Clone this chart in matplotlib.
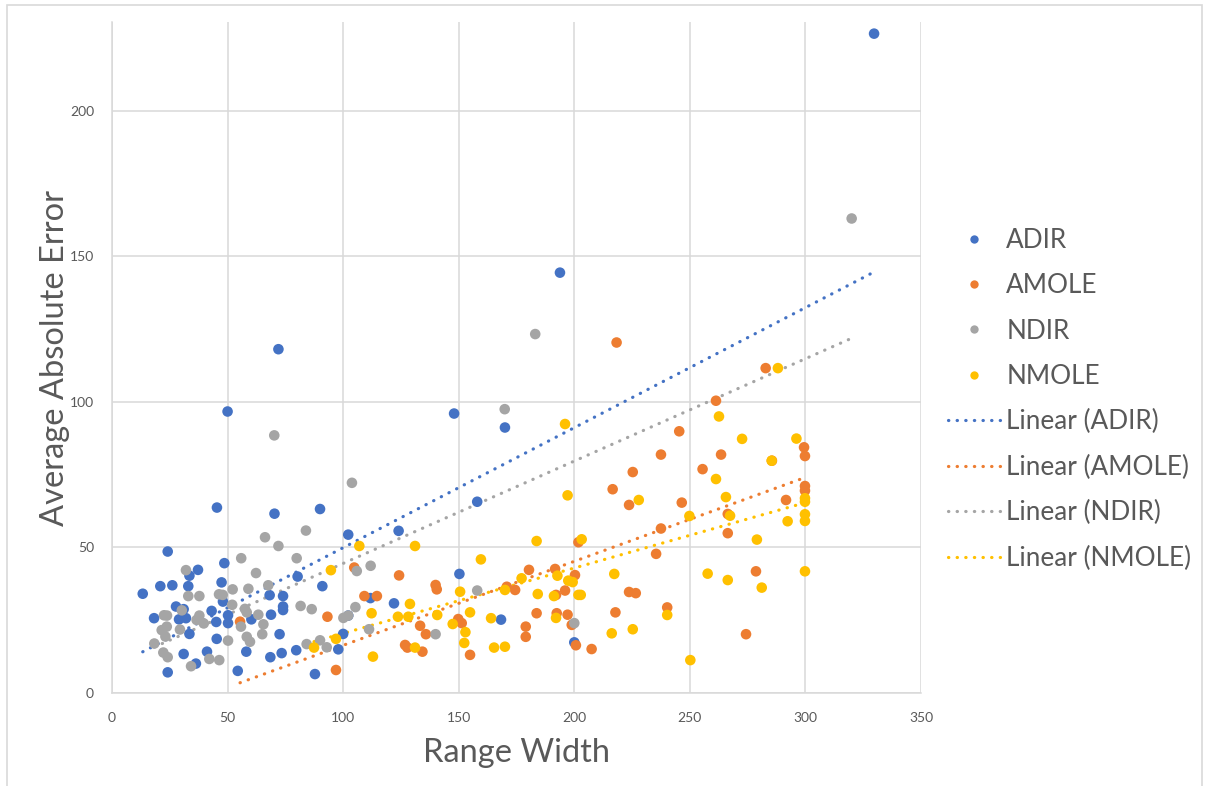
import numpy as np
import matplotlib
matplotlib.use('Agg')
import matplotlib.pyplot as plt
from matplotlib.lines import Line2D
from matplotlib.patches import Rectangle

# ---- data: (range width, average absolute error) ----
adir_x = [13.3, 18.2, 20.9, 24.1, 24.1, 26.1, 27.7, 29.0, 31.0, 31.0, 32.0, 33.0, 33.5, 33.5,
          36.3, 37.2, 41.1, 43.1, 45.1, 45.3, 45.4, 47.4, 48.0, 48.6, 50.0, 50.2, 50.2, 54.4,
          58.1, 60.3, 68.2, 68.5, 68.8, 70.3, 72.0, 72.5, 73.4, 74.0, 74.0, 74.0, 79.7, 80.3,
          87.8, 90.0, 91.0, 97.9, 100.0, 102.2, 102.2, 111.8, 122.0, 124.0, 148.0, 150.3,
          158.0, 168.3, 170.0, 193.8, 200.0, 329.7]
adir_y = [34.1, 25.7, 36.7, 48.6, 7.1, 37.0, 29.7, 25.3, 28.8, 13.4, 25.7, 36.7, 40.3, 20.3,
          10.1, 42.3, 14.2, 28.2, 24.4, 18.6, 63.7, 38.0, 31.4, 44.6, 96.7, 26.7, 24.0, 7.6,
          14.2, 25.3, 33.6, 12.3, 26.9, 61.6, 118.1, 20.2, 13.7, 33.3, 29.7, 28.5, 14.7, 40.0,
          6.5, 63.2, 36.7, 15.0, 20.3, 54.4, 26.6, 32.6, 30.8, 55.7, 96.0, 40.9,
          65.7, 25.2, 91.2, 144.4, 17.4, 226.5]

amole_x = [55.4, 93.2, 96.9, 104.8, 109.2, 114.6, 124.2, 126.8, 127.8, 133.3, 134.3, 135.8,
           140.0, 140.5, 149.8, 151.3, 154.9, 170.8, 174.4, 179.0, 179.0, 180.4, 183.7, 191.7,
           192.1, 192.4, 196.0, 197.1, 198.9, 200.3, 200.7, 201.8, 207.5, 216.6, 217.8, 218.3,
           223.7, 223.7, 225.3, 226.6, 235.4, 237.5, 237.5, 240.2, 245.4, 246.5, 255.5, 261.3,
           263.5, 266.4, 266.4, 274.3, 278.6, 282.8, 285.5, 291.6, 299.4, 299.8, 299.8, 299.8]
amole_y = [24.5, 26.2, 7.9, 43.1, 33.3, 33.3, 40.4, 16.5, 15.6, 23.1, 14.2, 20.2,
           37.1, 35.6, 25.4, 24.0, 13.1, 36.5, 35.4, 22.8, 19.3, 42.3, 27.4, 42.6,
           33.7, 27.4, 35.2, 26.9, 23.4, 40.5, 16.4, 51.8, 15.1, 70.0, 27.7, 120.4,
           64.6, 34.7, 75.9, 34.3, 47.8, 81.9, 56.5, 29.4, 89.9, 65.4, 76.9, 100.4,
           81.9, 61.5, 54.9, 20.2, 41.8, 111.6, 79.8, 66.3, 84.4, 81.4, 71.1, 69.5]

ndir_x = [18.3, 21.5, 22.2, 22.5, 23.1, 23.7, 23.8, 24.1, 29.4, 30.2, 32.0, 33.0, 34.2, 36.6,
          37.8, 37.8, 39.7, 42.1, 46.3, 46.4, 47.9, 50.2, 52.0, 52.2, 55.8, 55.9, 57.5, 58.3,
          58.3, 59.0, 59.7, 62.3, 63.3, 65.0, 65.5, 66.2, 67.6, 70.2, 72.0, 79.9, 81.6, 83.9,
          84.2, 86.4, 90.0, 92.9, 100.1, 102.2, 103.8, 105.3, 105.9, 111.2, 111.9, 140.0,
          158.0, 169.9, 183.1, 200.0, 320.0]
ndir_y = [17.0, 21.6, 13.9, 26.7, 19.4, 22.8, 26.6, 12.3, 21.8, 28.4, 42.2, 33.3, 9.2, 25.1,
          26.6, 33.3, 23.9, 11.7, 33.9, 11.3, 33.7, 18.0, 30.3, 35.6, 22.8, 46.3, 28.9, 27.7,
          19.3, 35.8, 17.6, 41.2, 26.9, 20.2, 23.6, 53.5, 37.0, 88.5, 50.5, 46.3, 29.9, 55.8,
          16.8, 28.8, 18.1, 15.7, 25.8, 26.6, 72.2, 29.5, 41.9, 21.9, 43.7, 20.2,
          35.2, 97.5, 123.3, 24.0, 163.0]

nmole_x = [87.4, 94.7, 96.9, 107.0, 112.3, 112.9, 123.7, 128.2, 128.9, 131.1, 131.1, 140.7,
           147.4, 150.6, 152.4, 152.9, 154.9, 159.6, 164.0, 165.3, 170.0, 170.0, 177.2, 183.7,
           184.2, 191.2, 192.1, 192.7, 196.0, 197.1, 197.4, 199.3, 201.8, 202.8, 203.2, 216.2,
           217.3, 225.3, 227.9, 240.2, 249.8, 250.2, 257.7, 261.3, 262.6, 265.6, 266.4, 267.4,
           272.6, 279.0, 281.1, 285.4, 288.1, 292.3, 296.1, 299.8, 299.8, 299.8, 299.8, 299.8]
nmole_y = [15.6, 42.2, 18.6, 50.5, 27.4, 12.5, 26.2, 26.2, 30.6, 50.5, 15.6, 26.8,
           23.7, 34.8, 17.2, 20.9, 27.7, 45.9, 25.7, 15.6, 15.9, 35.4, 39.4, 52.2,
           34.0, 33.3, 25.8, 40.3, 92.4, 67.9, 38.6, 38.1, 33.7, 33.7, 52.8, 20.5,
           40.9, 21.9, 66.3, 26.8, 60.8, 11.3, 41.0, 73.5, 95.0, 67.3, 38.8, 60.9,
           87.3, 52.7, 36.2, 79.8, 111.6, 59.0, 87.4, 66.9, 65.7, 61.4, 59.1, 41.8]

series_names = ['ADIR', 'AMOLE', 'NDIR', 'NMOLE']
series_colors = ['#4472C4', '#ED7D31', '#A5A5A5', '#FFC000']

x_ticks = [0, 50, 100, 150, 200, 250, 300, 350]
y_ticks = [0, 50, 100, 150, 200]

plt.rcParams['font.family'] = ['Lato', 'DejaVu Sans']
text_color = '#595959'
grid_color = '#D9D9D9'

fig = plt.figure(figsize=(12.05, 7.86), dpi=100)
ax = fig.add_axes([112 / 1205, 93 / 786, 809 / 1205, 671 / 786])

all_x = [adir_x, amole_x, ndir_x, nmole_x]
all_y = [adir_y, amole_y, ndir_y, nmole_y]

point_handles = []
trend_handles = []
for name, color, xs, ys in zip(series_names, series_colors, all_x, all_y):
    xs = np.array(xs)
    ys = np.array(ys)
    ax.scatter(xs, ys, s=58, color=color, edgecolors='none', zorder=3)
    point_handles.append(Line2D([], [], marker='o', linestyle='none', markersize=6,
                                markerfacecolor=color, markeredgecolor='none', label=name))

    # linear trendline, as Excel draws it over the data range
    slope, intercept = np.polyfit(xs, ys, 1)
    tx = np.array([xs.min(), xs.max()])
    line, = ax.plot(tx, slope * tx + intercept, color=color, lw=2.3,
                    linestyle=(0, (0.1, 2.6)), dash_capstyle='round', zorder=2,
                    label='Linear (' + name + ')')
    trend_handles.append(line)

ax.set_xlim(0, 350)
ax.set_ylim(0, 230.5)
ax.set_xticks(x_ticks)
ax.set_yticks(y_ticks)
ax.grid(True, color=grid_color, lw=1.1, zorder=0)
ax.set_axisbelow(True)
for side in ['top', 'right']:
    ax.spines[side].set_visible(False)
for side in ['left', 'bottom']:
    ax.spines[side].set_color(grid_color)
    ax.spines[side].set_linewidth(1.1)
ax.tick_params(length=0, labelsize=10, colors=text_color)
ax.tick_params(axis='x', pad=14)
ax.tick_params(axis='y', pad=13)

ax.set_xlabel('Range Width', fontsize=23.5, color=text_color, labelpad=10)
ax.set_ylabel('Average Absolute Error', fontsize=23.5, color=text_color, labelpad=0)

fig.legend(handles=point_handles + trend_handles, loc='center left',
           bbox_to_anchor=(924 / 1205, 0.492), frameon=False, fontsize=18.8,
           labelcolor=text_color, handlelength=2.0, handletextpad=0.25,
           labelspacing=0.78)

# thin frame around the chart area, as in the screenshot
fig.patches.append(Rectangle((7 / 1205, -0.01), 1195 / 1205, 1 - 5 / 786 + 0.01,
                             transform=fig.transFigure, fill=False,
                             edgecolor=grid_color, lw=1.2))

fig.savefig('out.png', dpi=100)
